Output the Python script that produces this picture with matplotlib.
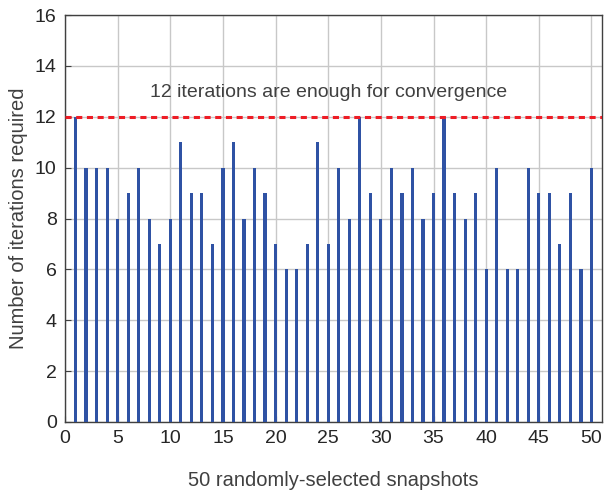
import numpy as np
import matplotlib
matplotlib.use('Agg')
import matplotlib.pyplot as plt

plt.rcParams['font.family'] = ['Liberation Sans', 'DejaVu Sans']

snapshots = np.arange(1, 51)
iterations = [12, 10, 10, 10, 8, 9, 10, 8, 7, 8,
              11, 9, 9, 7, 10, 11, 8, 10, 9, 7,
              6, 6, 7, 11, 7, 10, 8, 12, 9, 8,
              10, 9, 10, 8, 9, 12, 9, 8, 9, 6,
              10, 6, 6, 10, 9, 9, 7, 9, 6, 10]
threshold = 12
note = '12 iterations are enough for convergence'

fig = plt.figure(figsize=(6.08, 4.96), dpi=100)
ax = fig.add_axes([65/608, 1-422/496, 537/608, 407/496])

ax.bar(snapshots, iterations, width=0.3, color='#2f52a4', zorder=3)
ax.axhline(threshold, color='#ee1c25', linestyle=(0, (2, 1.5)), linewidth=2.2, zorder=4)
ax.text(25, 12.95, note, ha='center', va='center', fontsize=14, color='#404040')

ax.set_xlim(0, 51)
ax.set_ylim(0, 16)
ax.set_xticks(np.arange(0, 51, 5))
ax.set_yticks(np.arange(0, 17, 2))
ax.grid(True, color='#c8c8c8', linewidth=1, zorder=0)
for s in ax.spines.values():
    s.set_color('#404040')
    s.set_linewidth(1)
ax.tick_params(labelsize=14, colors='#404040', labelcolor='#262626', direction='in', length=4, pad=6)

ax.set_xlabel('50 randomly-selected snapshots', fontsize=14.5, color='#404040', labelpad=17)
ax.set_ylabel('Number of iterations required', fontsize=14.5, color='#404040', labelpad=5)

fig.savefig('out.png', dpi=100)
